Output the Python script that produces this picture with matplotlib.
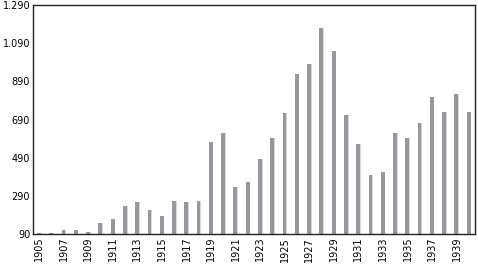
import numpy as np
import matplotlib
matplotlib.use('Agg')
import matplotlib.pyplot as plt

years = list(range(1905, 1941))
values = [95, 95, 109, 109, 102, 150, 171, 235, 256, 214, 186, 263, 256, 263,
          570, 617, 337, 361, 485, 591, 722, 931, 980, 1170, 1051, 714, 563,
          401, 414, 617, 591, 674, 807, 729, 826, 729]
yticks = [90, 290, 490, 690, 890, 1090, 1290]
ytick_labels = ['90', '290', '490', '690', '890', '1.090', '1.290']

plt.rcParams['font.family'] = 'DejaVu Sans'

fig = plt.figure(figsize=(4.78, 2.64), dpi=100)
ax = fig.add_axes([33/478, 30/264, 442/478, 229/264])

x = np.arange(len(years))
ax.bar(x, np.array(values) - 90, bottom=90, width=0.34, color='#98989c',
       edgecolor='none')
# light right edge on each bar
ax.bar(x + 0.17, np.array(values) - 90, bottom=90, width=0.06, color='#d8d8da',
       edgecolor='none')

ax.set_xlim(-0.5, len(years) - 0.5)
ax.set_ylim(90, 1290)
ax.set_yticks(yticks)
ax.set_yticklabels(ytick_labels, fontsize=7)
ax.set_xticks(x[::2])
ax.set_xticklabels([str(y) for y in years[::2]], rotation=90, fontsize=7)
ax.tick_params(axis='both', length=0, pad=2)
for s in ax.spines.values():
    s.set_linewidth(1.0)
    s.set_color('#222222')

fig.savefig('out.png', dpi=100)
